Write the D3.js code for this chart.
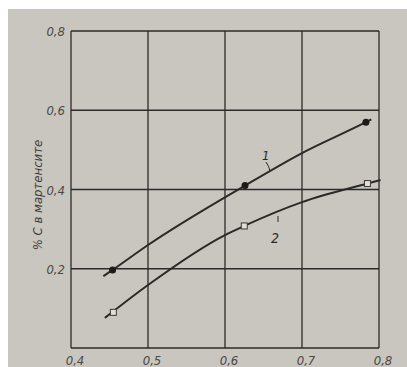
<!DOCTYPE html>
<html><head><meta charset="utf-8">
<script src="https://cdn.jsdelivr.net/npm/d3@7"></script>
<style>body{margin:0;background:#fff}svg{display:block}</style>
</head><body>
<script>
// Data
const xTicks = [0.4, 0.5, 0.6, 0.7, 0.8];
const yTicks = [0.2, 0.4, 0.6, 0.8];
const xTickLabels = ["0,4", "0,5", "0,6", "0,7", "0,8"];
const yTickLabels = ["0,2", "0,4", "0,6", "0,8"];
const yLabel = "% С в мартенсите";
// curve 1 (filled circles)
const curve1X = [0.442, 0.454, 0.5, 0.626, 0.7, 0.783, 0.79];
const curve1Y = [0.181, 0.197, 0.26, 0.41, 0.492, 0.57, 0.577];
const marks1X = [0.454, 0.626, 0.783];
const marks1Y = [0.197, 0.41, 0.57];
// curve 2 (open squares)
const curve2X = [0.444, 0.5, 0.6, 0.625, 0.7, 0.785, 0.802];
const curve2Y = [0.076, 0.159, 0.285, 0.308, 0.368, 0.415, 0.424];
const marks2X = [0.455, 0.625, 0.785];
const marks2Y = [0.09, 0.308, 0.415];

const W = 407, H = 367;
const svg = d3.select("body").append("svg").attr("width", W).attr("height", H);
svg.append("rect").attr("x", 8).attr("y", 9).attr("width", W - 8).attr("height", H - 9).attr("fill", "#c9c6c0");

const x = d3.scaleLinear().domain([0.4, 0.8]).range([71, 379]);
const y = d3.scaleLinear().domain([0, 0.8]).range([348, 31]);
const ink = "#2b2a28";
const font = "'DejaVu Sans Condensed','DejaVu Sans',sans-serif";

// grid
const g = svg.append("g");
g.selectAll(".vg").data(xTicks).join("line")
  .attr("x1", d => x(d)).attr("x2", d => x(d)).attr("y1", y(0)).attr("y2", y(0.8))
  .attr("stroke", ink).attr("stroke-width", 1.3);
g.selectAll(".hg").data([0].concat(yTicks)).join("line")
  .attr("x1", x(0.4)).attr("x2", x(0.8)).attr("y1", d => y(d)).attr("y2", d => y(d))
  .attr("stroke", ink).attr("stroke-width", 1.3);

// tick labels
svg.selectAll(".yt").data(yTicks).join("text")
  .attr("x", x(0.4) - 6).attr("y", d => y(d) + 5)
  .attr("text-anchor", "end").attr("font-family", font).attr("font-style", "italic")
  .attr("font-size", 13).attr("fill", "#4a4946")
  .text((d, i) => yTickLabels[i]);
svg.selectAll(".xt").data(xTicks).join("text")
  .attr("x", d => x(d) + 4).attr("y", y(0) + 17)
  .attr("text-anchor", "middle").attr("font-family", font).attr("font-style", "italic")
  .attr("font-size", 13).attr("fill", "#4a4946")
  .text((d, i) => xTickLabels[i]);

// y label
svg.append("text")
  .attr("transform", `translate(42,195) rotate(-90)`)
  .attr("text-anchor", "middle").attr("font-family", font).attr("font-style", "italic")
  .attr("font-size", 13).attr("fill", "#3e3d3a")
  .text(yLabel);

// curves
const line = d3.line().x(d => x(d[0])).y(d => y(d[1])).curve(d3.curveMonotoneX);
svg.append("path").datum(d3.zip(curve1X, curve1Y)).attr("d", line)
  .attr("fill", "none").attr("stroke", ink).attr("stroke-width", 2);
svg.append("path").datum(d3.zip(curve2X, curve2Y)).attr("d", line)
  .attr("fill", "none").attr("stroke", ink).attr("stroke-width", 2);

svg.selectAll(".m1").data(d3.zip(marks1X, marks1Y)).join("circle")
  .attr("cx", d => x(d[0])).attr("cy", d => y(d[1])).attr("r", 3.5).attr("fill", "#1c1b1a");
svg.selectAll(".m2").data(d3.zip(marks2X, marks2Y)).join("rect")
  .attr("x", d => x(d[0]) - 3).attr("y", d => y(d[1]) - 3).attr("width", 6).attr("height", 6)
  .attr("fill", "#e2dfda").attr("stroke", "#3a3936").attr("stroke-width", 1);

// curve labels with leaders
svg.append("text").attr("x", 262).attr("y", 160).attr("font-family", font).attr("font-style", "italic")
  .attr("font-size", 13).attr("fill", ink).text("1");
svg.append("path").attr("d", `M266,162 q3,4 4,9`)
  .attr("fill", "none").attr("stroke", ink).attr("stroke-width", 1);
svg.append("text").attr("x", 271).attr("y", 243).attr("font-family", font).attr("font-style", "italic")
  .attr("font-size", 14).attr("fill", ink).text("2");
svg.append("path").attr("d", `M278,222 l0,-6`)
  .attr("fill", "none").attr("stroke", ink).attr("stroke-width", 1);
</script>
</body></html>
